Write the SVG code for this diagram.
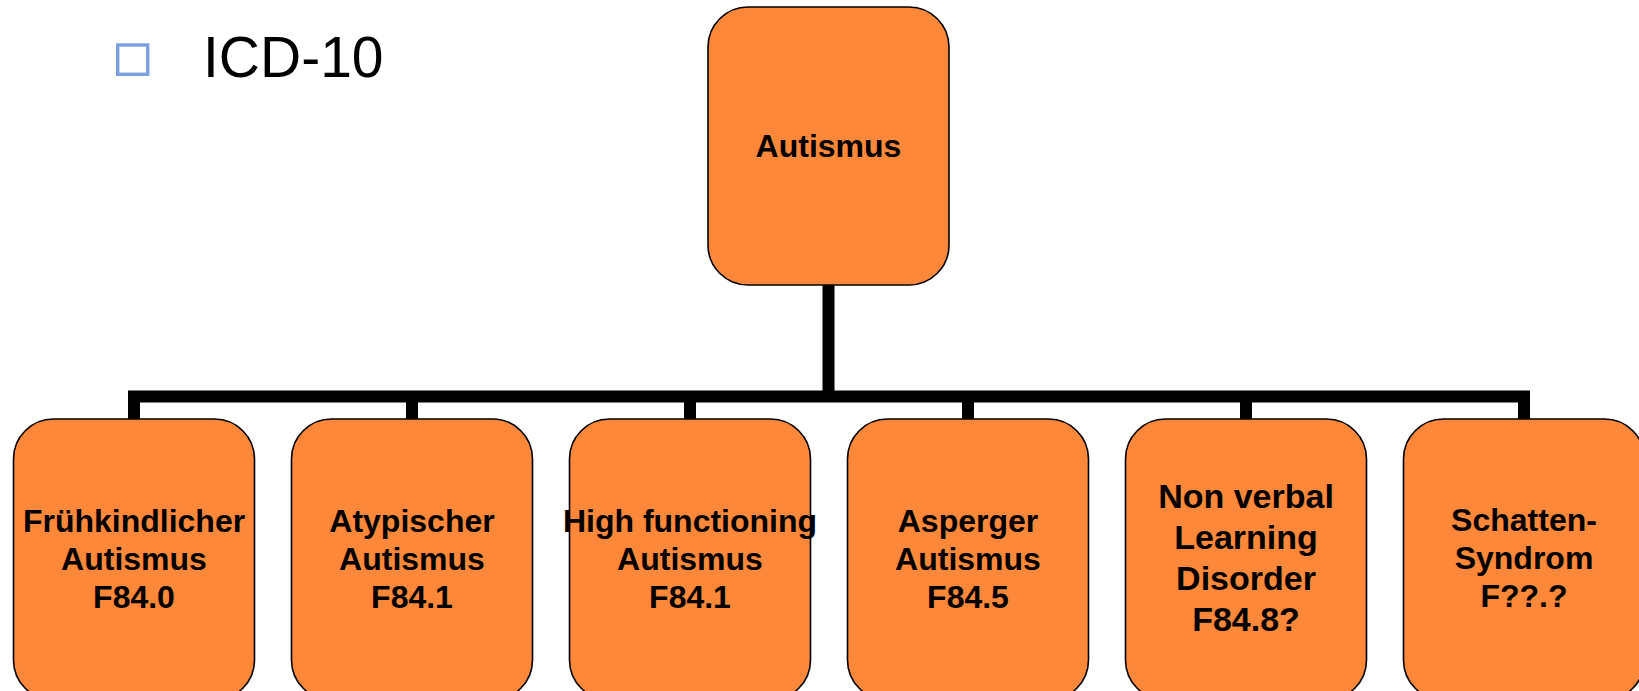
<svg xmlns="http://www.w3.org/2000/svg" width="1639" height="691" viewBox="0 0 1639 691">
  <style>
    .box { fill: #FD8839; stroke: #000000; stroke-width: 1.6; }
    .lbl { font-family: "Liberation Sans", Arial, sans-serif; font-weight: bold; font-size: 32px; fill: #000000; text-anchor: middle; }
    .lbl34 { font-size: 34px; }
    .conn { fill: none; stroke: #000000; stroke-width: 12; stroke-linejoin: miter; stroke-linecap: butt; }
    .title { font-family: "Liberation Sans", Arial, sans-serif; font-size: 57px; fill: #000000; }
  </style>
  <rect width="1639" height="691" fill="#FFFFFF"/>

  <g id="heading">
    <rect x="117.7" y="45" width="30" height="29.3" fill="none" stroke="#7B9FDF" stroke-width="3.4"/>
    <text class="title" x="203" y="77">ICD-10</text>
  </g>

  <g id="connectors">
    <path class="conn" d="M828.5,285 V396.5"/>
    <path class="conn" d="M134,419 V396.5 H1524 V419"/>
    <path class="conn" d="M412,396.5 V419"/>
    <path class="conn" d="M690,396.5 V419"/>
    <path class="conn" d="M968,396.5 V419"/>
    <path class="conn" d="M1246,396.5 V419"/>
  </g>

  <g id="root">
    <rect class="box" x="708" y="7" width="241" height="278" rx="40" ry="40"/>
    <text class="lbl" x="828.5" y="157">Autismus</text>
  </g>

  <g id="node-fruehkindlich">
    <rect class="box" x="13.5" y="419" width="241" height="281" rx="40" ry="40"/>
    <text class="lbl" x="134" y="532">Frühkindlicher</text>
    <text class="lbl" x="134" y="570">Autismus</text>
    <text class="lbl" x="134" y="608">F84.0</text>
  </g>

  <g id="node-atypisch">
    <rect class="box" x="291.5" y="419" width="241" height="281" rx="40" ry="40"/>
    <text class="lbl" x="412" y="532">Atypischer</text>
    <text class="lbl" x="412" y="570">Autismus</text>
    <text class="lbl" x="412" y="608">F84.1</text>
  </g>

  <g id="node-highfunctioning">
    <rect class="box" x="569.5" y="419" width="241" height="281" rx="40" ry="40"/>
    <text class="lbl" x="690" y="532">High functioning</text>
    <text class="lbl" x="690" y="570">Autismus</text>
    <text class="lbl" x="690" y="608">F84.1</text>
  </g>

  <g id="node-asperger">
    <rect class="box" x="847.5" y="419" width="241" height="281" rx="40" ry="40"/>
    <text class="lbl" x="968" y="532">Asperger</text>
    <text class="lbl" x="968" y="570">Autismus</text>
    <text class="lbl" x="968" y="608">F84.5</text>
  </g>

  <g id="node-nld">
    <rect class="box" x="1125.5" y="419" width="241" height="281" rx="40" ry="40"/>
    <text class="lbl lbl34" x="1246" y="508">Non verbal</text>
    <text class="lbl lbl34" x="1246" y="549">Learning</text>
    <text class="lbl lbl34" x="1246" y="590">Disorder</text>
    <text class="lbl lbl34" x="1246" y="631">F84.8?</text>
  </g>

  <g id="node-schatten">
    <rect class="box" x="1403.5" y="419" width="241" height="281" rx="40" ry="40"/>
    <text class="lbl" x="1524" y="531">Schatten-</text>
    <text class="lbl" x="1524" y="569">Syndrom</text>
    <text class="lbl" x="1524" y="607">F??.?</text>
  </g>
</svg>
